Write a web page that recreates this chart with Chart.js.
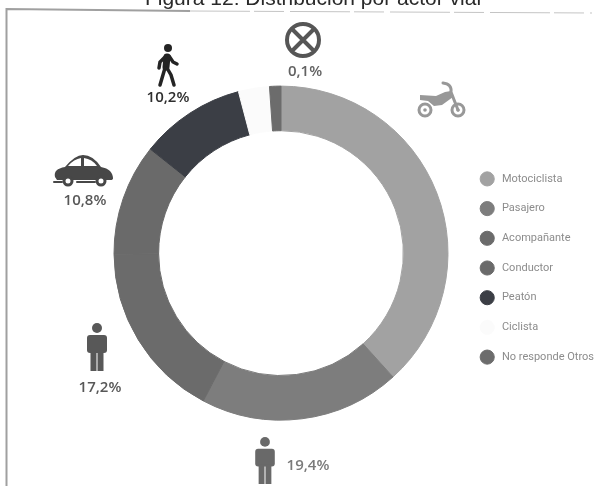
<!DOCTYPE html>
<html>
<head>
<meta charset="utf-8">
<title>Distribución por actor vial</title>
<script src="https://cdn.jsdelivr.net/npm/chart.js@4"></script>
<style>
    html, body { margin: 0; padding: 0; background: #fff; overflow: hidden; }
    /* the reference is a soft scan, so a little blur brings the edges closer */
    #actorChart { display: block; filter: blur(0.6px); }
</style>
</head>
<body>
<canvas id="actorChart" width="601" height="486"></canvas>
<script>
// data
const categories = ['Motociclista', 'Pasajero', 'Acompañante', 'Conductor', 'Peatón', 'Ciclista', 'No responde Otros'];
const shares = [38.3, 19.4, 17.2, 10.8, 10.2, 3.0, 1.1];
const sliceColors = ['#a2a2a2', '#7d7d7d', '#6b6b6b', '#6a6a6a', '#3b3e45', '#fbfbfb', '#6c6c6c'];
const chartTitle = 'Figura 12: Distribución por actor vial';
const shareLabels = ['10,2%', '0,1%', '10,8%', '17,2%', '19,4%'];

// little person standing, used for pasajero and acompañante
function drawPerson(ctx, cx, top, h, color) {
    const u = h / 48;
    ctx.fillStyle = color;
    ctx.beginPath();
    ctx.arc(cx, top + 5 * u, 5 * u, 0, Math.PI * 2);
    ctx.fill();
    ctx.beginPath();
    ctx.roundRect(cx - 10 * u, top + 12 * u, 20 * u, 18 * u, 3 * u);
    ctx.fill();
    ctx.fillRect(cx - 6.5 * u, top + 28 * u, 6 * u, 20 * u);
    ctx.fillRect(cx + 0.5 * u, top + 28 * u, 6 * u, 20 * u);
}

function drawWalker(ctx, cx, top, color) {
    ctx.fillStyle = color;
    ctx.strokeStyle = color;
    ctx.lineCap = 'round';
    ctx.beginPath();
    ctx.arc(cx + 1, top + 4, 4, 0, Math.PI * 2);
    ctx.fill();
    ctx.lineWidth = 7;
    ctx.beginPath();
    ctx.moveTo(cx, top + 13);
    ctx.lineTo(cx - 1, top + 23);
    ctx.stroke();
    ctx.lineWidth = 3.5;
    ctx.beginPath();
    ctx.moveTo(cx - 1, top + 12);
    ctx.lineTo(cx - 7, top + 18);
    ctx.lineTo(cx - 8, top + 24);
    ctx.moveTo(cx + 2, top + 12);
    ctx.lineTo(cx + 6, top + 18);
    ctx.lineTo(cx + 10, top + 20);
    ctx.moveTo(cx - 2, top + 24);
    ctx.lineTo(cx - 7, top + 41);
    ctx.moveTo(cx, top + 24);
    ctx.lineTo(cx + 4, top + 31);
    ctx.lineTo(cx + 7, top + 41);
    ctx.stroke();
}

function drawCar(ctx, x, y, color) {
    ctx.fillStyle = color;
    ctx.beginPath();
    ctx.moveTo(x + 2, y + 22);
    ctx.quadraticCurveTo(x, y + 14, x + 12, y + 12);
    ctx.quadraticCurveTo(x + 22, y, x + 30, y);
    ctx.quadraticCurveTo(x + 40, y, x + 48, y + 12);
    ctx.quadraticCurveTo(x + 60, y + 14, x + 60, y + 24);
    ctx.lineTo(x + 56, y + 27);
    ctx.lineTo(x + 4, y + 25);
    ctx.closePath();
    ctx.fill();
    ctx.fillStyle = '#fff';
    ctx.beginPath();
    ctx.moveTo(x + 15, y + 11);
    ctx.quadraticCurveTo(x + 21, y + 4, x + 28, y + 3);
    ctx.lineTo(x + 28, y + 11);
    ctx.closePath();
    ctx.moveTo(x + 31, y + 3);
    ctx.quadraticCurveTo(x + 39, y + 4, x + 44, y + 11);
    ctx.lineTo(x + 31, y + 11);
    ctx.closePath();
    ctx.fill();
    ctx.fillRect(x, y + 25, 60, 8);
    ctx.strokeStyle = color;
    ctx.lineWidth = 2;
    ctx.beginPath();
    ctx.moveTo(x + 1, y + 27);
    ctx.lineTo(x + 9, y + 27);
    ctx.moveTo(x + 24, y + 27);
    ctx.lineTo(x + 42, y + 27);
    ctx.stroke();
    [x + 15, x + 48].forEach(wx => {
        ctx.lineWidth = 3;
        ctx.fillStyle = '#fff';
        ctx.beginPath();
        ctx.arc(wx, y + 26, 4, 0, Math.PI * 2);
        ctx.fill();
        ctx.stroke();
    });
}

function drawMoto(ctx, x, y, color) {
    ctx.strokeStyle = color;
    ctx.fillStyle = color;
    ctx.lineWidth = 3;
    [x + 7, x + 40].forEach(wx => {
        ctx.beginPath();
        ctx.arc(wx, y + 28, 6, 0, Math.PI * 2);
        ctx.stroke();
        ctx.beginPath();
        ctx.arc(wx, y + 28, 1.8, 0, Math.PI * 2);
        ctx.fill();
    });
    ctx.beginPath();
    ctx.moveTo(x + 2, y + 13);
    ctx.lineTo(x + 18, y + 14);
    ctx.lineTo(x + 27, y + 10);
    ctx.lineTo(x + 33, y + 9);
    ctx.lineTo(x + 35, y + 15);
    ctx.lineTo(x + 24, y + 23);
    ctx.lineTo(x + 16, y + 24);
    ctx.lineTo(x + 10, y + 19);
    ctx.lineTo(x + 2, y + 18);
    ctx.closePath();
    ctx.fill();
    ctx.beginPath();
    ctx.moveTo(x + 25, y + 1);
    ctx.quadraticCurveTo(x + 34, y + 2, x + 33, y + 10);
    ctx.lineTo(x + 40, y + 28);
    ctx.stroke();
}

// icons, percentages and the frame left over from the scanned page
const scanDecor = {
    id: 'scanDecor',
    // legend box is kept narrow so the title centres right, but it clips to its box
    afterLayout(chart) {
        chart.legend.right = chart.width;
    },
    afterDraw(chart) {
        const ctx = chart.ctx;
        ctx.save();

        ctx.strokeStyle = '#a0a0a0';
        ctx.lineWidth = 2;
        ctx.beginPath();
        ctx.moveTo(6.5, 486);
        ctx.lineTo(6.5, 9);
        ctx.lineTo(190, 11);
        ctx.stroke();
        ctx.strokeStyle = '#c4c4c4';
        ctx.lineWidth = 1;
        ctx.setLineDash([60, 4, 30, 6]);
        ctx.beginPath();
        ctx.moveTo(190, 11);
        ctx.lineTo(592, 13);
        ctx.stroke();
        ctx.setLineDash([]);

        // no responde icon
        ctx.strokeStyle = '#565656';
        ctx.lineWidth = 4;
        ctx.beginPath();
        ctx.arc(303, 40, 16, 0, Math.PI * 2);
        ctx.moveTo(293, 30);
        ctx.lineTo(313, 50);
        ctx.moveTo(313, 30);
        ctx.lineTo(293, 50);
        ctx.stroke();

        drawWalker(ctx, 167, 44, '#242424');
        drawCar(ctx, 53, 155, '#474747');
        drawMoto(ctx, 418, 82, '#989898');
        drawPerson(ctx, 97, 323, 48, '#585858');
        drawPerson(ctx, 265, 437, 47, '#696969');

        ctx.textAlign = 'center';
        ctx.textBaseline = 'middle';
        ctx.font = '600 15px "Open Sans"';
        ctx.fillStyle = '#2e2e2e';
        ctx.fillText(shareLabels[0], 168, 98);
        ctx.fillStyle = '#626262';
        ctx.fillText(shareLabels[1], 305, 72);
        ctx.fillStyle = '#585858';
        ctx.fillText(shareLabels[2], 85, 201);
        ctx.fillText(shareLabels[3], 100, 388);
        ctx.fillStyle = '#7a7a7a';
        ctx.fillText(shareLabels[4], 308, 466);
        ctx.restore();
    }
};

new Chart(document.getElementById('actorChart').getContext('2d'), {
    type: 'doughnut',
    data: {
        labels: categories,
        datasets: [{
            data: shares,
            backgroundColor: sliceColors,
            // same colour as the fill, hides the thin seams between slices
            borderColor: sliceColors,
            borderWidth: 1,
            radius: 167,
            cutout: 133
        }]
    },
    plugins: [scanDecor],
    options: {
        responsive: false,
        animation: false,
        layout: { padding: { left: 99, right: 74, top: 0, bottom: 1 } },
        plugins: {
            tooltip: { enabled: false },
            title: {
                display: true,
                text: chartTitle,
                color: '#2a2a2a',
                font: { family: '"Liberation Sans"', size: 21, weight: 'normal' },
                padding: { top: -13, bottom: 9 }
            },
            legend: {
                position: 'right',
                maxWidth: 64,
                title: { display: true, text: '', font: { size: 12 }, padding: 18.3 },
                labels: {
                    usePointStyle: true,
                    boxHeight: 10,
                    padding: 18.7,
                    color: '#8c8c8c',
                    font: { family: 'Roboto', size: 11 },
                    // thin space pushes the text away from the dot like the original
                    generateLabels(chart) {
                        const items = Chart.overrides.doughnut.plugins.legend.labels.generateLabels(chart);
                        return items.map(item => ({ ...item, text: '\u2004' + item.text }));
                    }
                }
            }
        }
    }
});
</script>
</body>
</html>
